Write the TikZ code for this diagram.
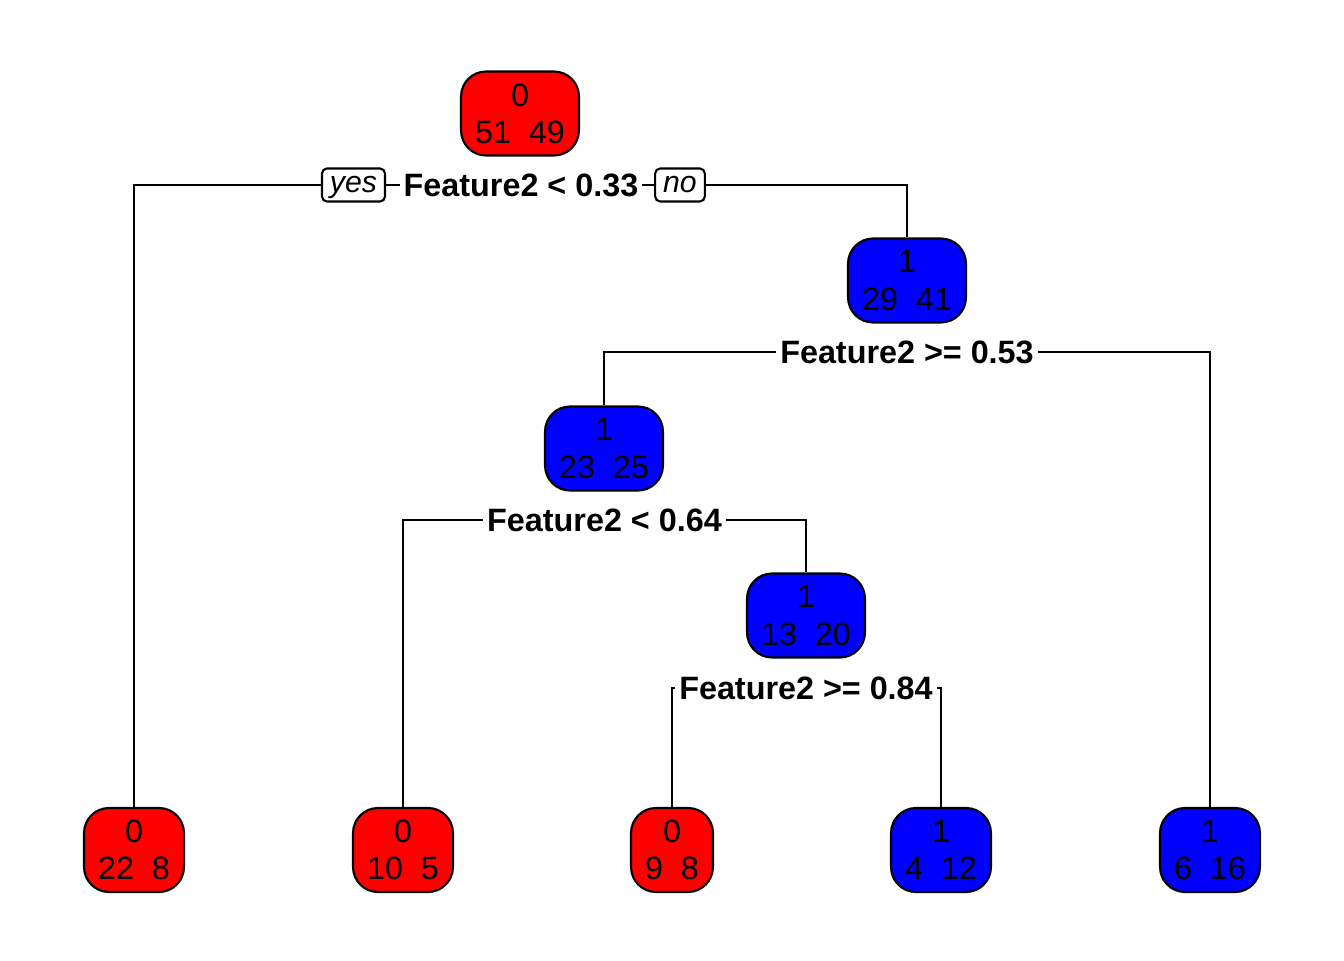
\documentclass[tikz,border=0pt]{standalone}
\usepackage{xcolor}
\usepackage{tikz}
\usepackage{fontspec}
\setmainfont{Liberation Sans}
\definecolor{LeafRed}{HTML}{FF0000}
\definecolor{LeafBlue}{HTML}{0000FF}

\begin{document}
\begin{tikzpicture}[
    line width=0.6pt,
    treenode/.style={draw=black, rounded corners=0.25cm, align=center, minimum height=0.84cm,
      inner xsep=0.14cm, inner ysep=0pt, font=\fontsize{9.2}{10.6}\selectfont},
    splitlabel/.style={fill=white, inner xsep=0.03cm, inner ysep=0.05cm, font=\fontsize{9.2}{11}\selectfont\bfseries},
    branchtag/.style={draw=black, fill=white, rounded corners=0.05cm, minimum height=0.33cm,
      text height=0.2cm, text depth=0.06cm, inner xsep=0.08cm, inner ysep=0pt,
      font=\fontsize{8.6}{10}\selectfont\itshape}
  ]
      \useasboundingbox (0,0) rectangle (13.44,9.6);

      % Root
      \node[treenode, fill=LeafRed] (n1) at (5.20,8.465) {0\\51\ \ 49};
      \node[splitlabel] (s1) at (5.21,7.75) {Feature2 < 0.33};
      \node[branchtag] (yes1) at (3.535,7.75) {yes};
      \node[branchtag] (no1) at (6.80,7.75) {no};

      % Inner nodes
      \node[treenode, fill=LeafBlue] (n2) at (9.07,6.795) {1\\29\ \ 41};
      \node[splitlabel] (s2) at (9.07,6.08) {Feature2 >= 0.53};

      \node[treenode, fill=LeafBlue] (n3) at (6.04,5.115) {1\\23\ \ 25};
      \node[splitlabel] (s3) at (6.045,4.40) {Feature2 < 0.64};

      \node[treenode, fill=LeafBlue] (n4) at (8.06,3.445) {1\\13\ \ 20};
      \node[splitlabel] (s4) at (8.06,2.72) {Feature2 >= 0.84};

      % Leaves
      \node[treenode, fill=LeafRed] (l1) at (1.34,1.10) {0\\22\ \ 8};
      \node[treenode, fill=LeafRed] (l2) at (4.03,1.10) {0\\10\ \ 5};
      \node[treenode, fill=LeafRed] (l3) at (6.72,1.10) {0\\9\ \ 8};
      \node[treenode, fill=LeafBlue] (l4) at (9.41,1.10) {1\\4\ \ 12};
      \node[treenode, fill=LeafBlue] (l5) at (12.10,1.10) {1\\6\ \ 16};

      % Branches
      \draw (yes1.west) -| (l1.north);
      \draw (yes1.east) -- (s1.west);
      \draw (s1.east) -- (no1.west);
      \draw (no1.east) -| (n2.north);

      \draw (s2.west) -| (n3.north);
      \draw (s2.east) -| (l5.north);

      \draw (s3.west) -| (l2.north);
      \draw (s3.east) -| (n4.north);

      \draw (s4.west) -| (l3.north);
      \draw (s4.east) -| (l4.north);
\end{tikzpicture}
\end{document}
